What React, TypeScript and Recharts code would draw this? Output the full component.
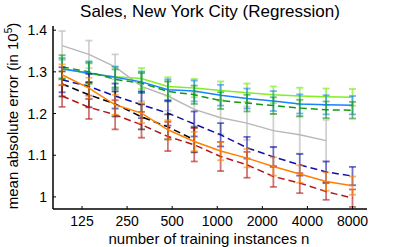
import { ErrorBar, Line, LineChart, XAxis, YAxis } from "recharts";

const nValues = [92, 139, 208, 312, 468, 702, 1053, 1580, 2370, 3556, 5333, 8000];
const xTicks = [125, 250, 500, 1000, 2000, 4000, 8000];
const yTicks = [1, 1.1, 1.2, 1.3, 1.4];

const grayVals = [1.363, 1.342, 1.312, 1.265, 1.242, 1.21, 1.19, 1.177, 1.159, 1.149, 1.135];
const grayErr = [0.035, 0.033, 0.03, 0.035, 0.035, 0.04, 0.04, 0.04, 0.04, 0.045, 0.05];
const limeVals = [1.309, 1.295, 1.288, 1.284, 1.265, 1.261, 1.255, 1.25, 1.245, 1.242, 1.24, 1.239];
const limeErr = [0.025, 0.025, 0.025, 0.025, 0.022, 0.022, 0.022, 0.022, 0.02, 0.02, 0.02, 0.02];
const blueVals = [1.307, 1.297, 1.287, 1.276, 1.257, 1.254, 1.244, 1.236, 1.23, 1.223, 1.221, 1.22];
const blueErr = [0.025, 0.025, 0.025, 0.025, 0.025, 0.025, 0.025, 0.024, 0.024, 0.023, 0.023, 0.022];
const greenVals = [1.312, 1.3, 1.282, 1.273, 1.253, 1.245, 1.231, 1.225, 1.219, 1.213, 1.209, 1.208];
const greenErr = [0.028, 0.025, 0.024, 0.024, 0.024, 0.022, 0.02, 0.02, 0.02, 0.02, 0.02, 0.02];
const navyVals = [1.281, 1.265, 1.242, 1.221, 1.201, 1.175, 1.149, 1.118, 1.096, 1.077, 1.06, 1.05];
const navyErr = [0.03, 0.03, 0.03, 0.032, 0.03, 0.03, 0.028, 0.026, 0.024, 0.026, 0.025, 0.022];
const blackVals = [1.271, 1.245, 1.223, 1.192, 1.168, 1.137];
const blackErr = [0.03, 0.03, 0.03, 0.03, 0.03, 0.03];
const redVals = [1.242, 1.215, 1.197, 1.173, 1.145, 1.125, 1.097, 1.077, 1.049, 1.033, 1.013, 0.997];
const redErr = [0.026, 0.028, 0.035, 0.031, 0.035, 0.04, 0.035, 0.031, 0.025, 0.024, 0.02, 0.021];
const orangeVals = [1.293, 1.261, 1.221, 1.201, 1.161, 1.133, 1.11, 1.093, 1.073, 1.055, 1.037, 1.027];
const orangeErr = [0.025, 0.025, 0.024, 0.024, 0.023, 0.023, 0.022, 0.022, 0.022, 0.021, 0.022, 0.022];

const toRows = (vals: number[], errs: number[]) => vals.map((v, i) => ({ n: nValues[i], v, e: errs[i] }));

const series = [
  { name: "gray", data: toRows(grayVals, grayErr), color: "#b8b8b8", err: "rgba(190,190,190,0.7)", dash: undefined },
  { name: "lime", data: toRows(limeVals, limeErr), color: "#80f020", err: "rgba(128,240,32,0.7)", dash: undefined },
  { name: "blue", data: toRows(blueVals, blueErr), color: "#1a80ff", err: "rgba(26,128,255,0.6)", dash: undefined },
  { name: "green", data: toRows(greenVals, greenErr), color: "#109a10", err: "rgba(16,154,16,0.6)", dash: "7 4" },
  { name: "navy", data: toRows(navyVals, navyErr), color: "#1010a8", err: "rgba(16,16,168,0.6)", dash: "7 4" },
  { name: "black", data: toRows(blackVals, blackErr), color: "#000000", err: "rgba(0,0,0,0.6)", dash: "7 4" },
  { name: "red", data: toRows(redVals, redErr), color: "#b01818", err: "rgba(176,24,24,0.6)", dash: "7 4" },
  { name: "orange", data: toRows(orangeVals, orangeErr), color: "#ff8000", err: "rgba(255,128,0,0.6)", dash: undefined },
];

const font = "'Liberation Sans', Arial, sans-serif";

function XTick(props: any) {
  const { x, y, payload } = props;
  return (
    <g>
      <line x1={x} x2={x} y1={y} y2={y - 3} stroke="#000" strokeWidth={1} />
      <text x={x} y={y + 17} textAnchor="middle" fontSize={14} fontFamily={font} fill="#000">
        {payload.value}
      </text>
    </g>
  );
}

function YTick(props: any) {
  const { x, y, payload } = props;
  return (
    <g>
      <line x1={x} x2={x + 3} y1={y} y2={y} stroke="#000" strokeWidth={1} />
      <text x={x - 6} y={y + 5} textAnchor="end" fontSize={14} fontFamily={font} fill="#000">
        {String(payload.value)}
      </text>
    </g>
  );
}

export default function App() {
  return (
    <div style={{ position: "absolute", left: 0, top: 0, width: 407, height: 247, background: "#fff", fontFamily: font }}>
      <LineChart width={407} height={247} margin={{ top: 26, right: 40, bottom: 8, left: 13 }}>
        <XAxis
          dataKey="n"
          type="number"
          scale="log"
          domain={[80, 10000]}
          allowDataOverflow
          ticks={xTicks}
          interval={0}
          height={30}
          tickSize={0}
          tickMargin={0}
          tickLine={false}
          tick={XTick}
          axisLine={{ stroke: "#000", strokeWidth: 1.5 }}
        />
        <YAxis
          type="number"
          domain={[0.971, 1.41]}
          allowDataOverflow
          ticks={yTicks}
          interval={0}
          width={40}
          tickSize={0}
          tickMargin={0}
          tickLine={false}
          tick={YTick}
          axisLine={{ stroke: "#000", strokeWidth: 1.5 }}
        />
        {series.map((s) => (
          <Line
            key={s.name}
            data={s.data}
            dataKey="v"
            type="linear"
            stroke={s.color}
            strokeWidth={1.5}
            strokeDasharray={s.dash}
            dot={false}
            activeDot={false}
            isAnimationActive={false}
          >
            <ErrorBar dataKey="e" direction="y" width={3.5} stroke={s.err} strokeWidth={1.8} isAnimationActive={false} />
          </Line>
        ))}
      </LineChart>
      <svg width={407} height={247} style={{ position: "absolute", left: 0, top: 0, pointerEvents: "none" }}>
        <text x={210} y={16.5} textAnchor="middle" fontSize={17} fontFamily={font} fill="#000">
          Sales, New York City (Regression)
        </text>
        <text x={209} y={243.5} textAnchor="middle" fontSize={15} fontFamily={font} fill="#000">
          number of training instances n
        </text>
        <text x={18} y={116} transform="rotate(-90 18 116)" textAnchor="middle" fontSize={15} fontFamily={font} fill="#000">
          mean absolute error (in 10<tspan fontSize={10} dy={-6}>5</tspan>
          <tspan dy={6}>)</tspan>
        </text>
      </svg>
    </div>
  );
}
